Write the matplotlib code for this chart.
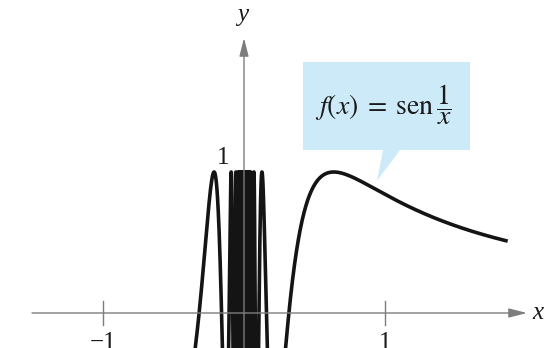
import numpy as np
import matplotlib
matplotlib.use("Agg")
import matplotlib.pyplot as plt
from matplotlib.patches import Polygon

plt.rcParams['font.family'] = ['Liberation Serif', 'DejaVu Serif']
plt.rcParams['mathtext.fontset'] = 'stix'

# ---- data ----
x_start, x_end = -1.9, 1.87          # domain of the plotted curve
n_samples = 600001
xticks = [-1, 1]
xtick_labels = ['\u22121', '1']
yticks = [1]
ytick_labels = ['1']
formula = r'$f(x)\;=\;\mathrm{sen}\,\dfrac{1}{x}$'

# ---- layout (pixel geometry of the reference) ----
W, H = 554, 348
ox, oy = 244, 313        # origin in pixels
s = 141.0                # pixels per unit

def p2d(px, py):
    return ((px - ox) / s, (oy - py) / s)

fig = plt.figure(figsize=(W / 100, H / 100), dpi=100)
ax = fig.add_axes([0, 0, 1, 1])
ax.set_xlim(p2d(0, 0)[0], p2d(W, 0)[0])
ax.set_ylim(p2d(0, H)[1], p2d(0, 0)[1])
ax.axis('off')

x = np.linspace(x_start, x_end, n_samples)
x = x[x != 0]
y = np.sin(1.0 / x)
ax.plot(x, y, color='#141414', lw=2.6, solid_capstyle='butt', zorder=2)

axis_col = '#7d7d7d'
# x axis
xa0 = p2d(32, oy)[0]
xa1 = p2d(527, oy)[0]
ax.annotate('', xy=(xa1, 0), xytext=(xa0, 0),
            arrowprops=dict(arrowstyle='-|>,head_length=1.1,head_width=0.28',
                            color=axis_col, lw=1.0, shrinkA=0, shrinkB=0), zorder=3)
# y axis
ya0 = p2d(0, H + 5)[1]
ya1 = p2d(0, 38)[1]
ax.annotate('', xy=(0, ya1), xytext=(0, ya0),
            arrowprops=dict(arrowstyle='-|>,head_length=1.1,head_width=0.28',
                            color=axis_col, lw=1.0, shrinkA=0, shrinkB=0), zorder=3)

tick_half = 12 / s
for t, lab in zip(xticks, xtick_labels):
    ax.plot([t, t], [-tick_half, tick_half], color=axis_col, lw=1.0, zorder=3)
    ax.text(t, -19 / s, lab, ha='center', va='top', fontsize=18, color='#1a1a1a')

for t, lab in zip(yticks, ytick_labels):
    ax.text(-21 / s, t + 14 / s, lab, ha='center', va='center', fontsize=18, color='#1a1a1a')

ax.text(*p2d(538, oy), 'x', ha='center', va='center', fontsize=18,
        style='italic', color='#1a1a1a')
ax.text(*p2d(243, 15), 'y', ha='center', va='center', fontsize=18,
        style='italic', color='#1a1a1a')

# callout box
box = [p2d(303, 62), p2d(470, 62), p2d(470, 150), p2d(400, 150),
       p2d(377, 181), p2d(383, 150), p2d(303, 150)]
ax.add_patch(Polygon(box, closed=True, facecolor='#cdeaf8', edgecolor='none', zorder=4))
ax.text(*p2d(383, 105), formula, ha='center', va='center', fontsize=20,
        color='#1a1a1a', zorder=5)

fig.savefig('out.png', dpi=100)
